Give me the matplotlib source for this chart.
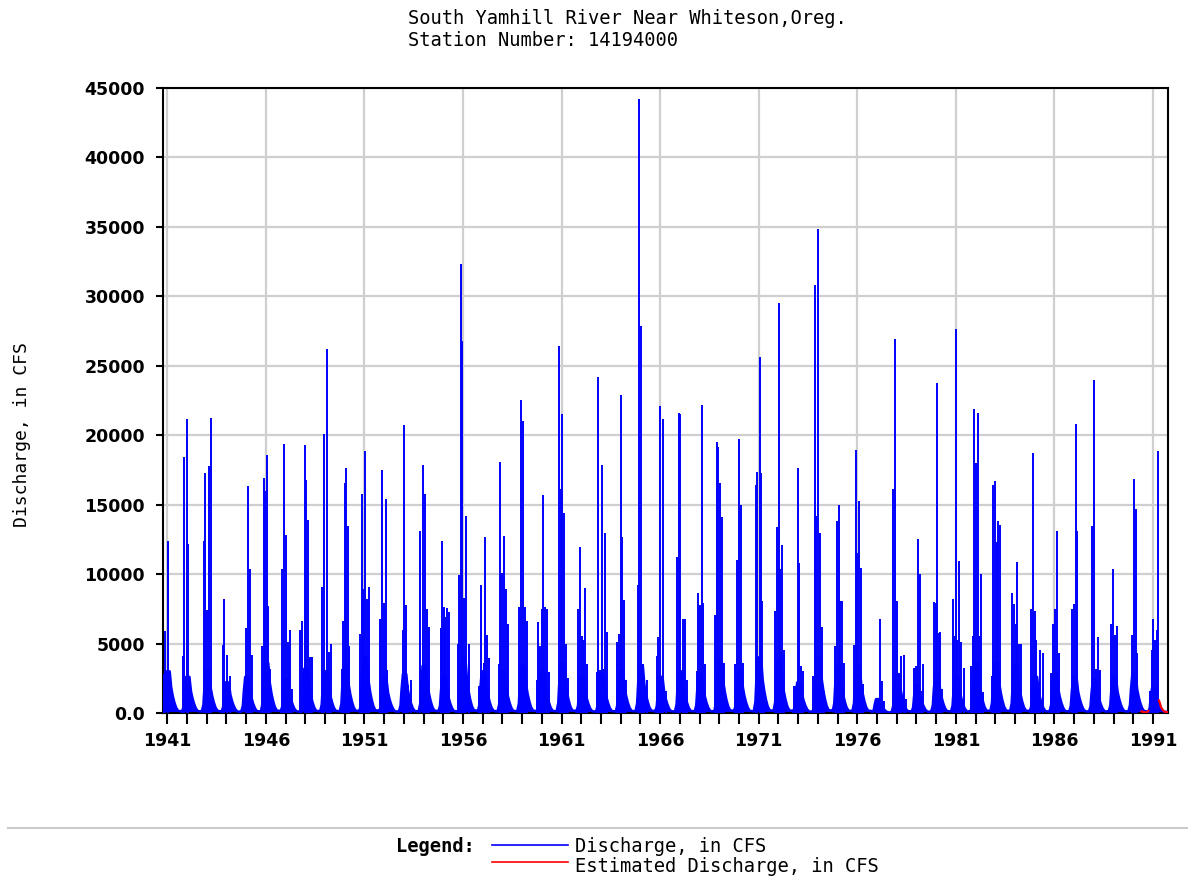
import numpy as np
import matplotlib.pyplot as plt
from matplotlib.lines import Line2D

# peak discharges (decimal year, cfs)
peak_years = [
    1940.81, 1940.89, 1941.01,
    1941.77, 1941.87, 1941.98, 1942.04,
    1942.84, 1942.92, 1943.01, 1943.09, 1943.19,
    1943.80, 1943.89, 1944.02, 1944.16,
    1945.00, 1945.09, 1945.17, 1945.29,
    1945.80, 1945.88, 1945.96, 1946.05, 1946.13, 1946.22,
    1946.83, 1946.93, 1947.01, 1947.10, 1947.20, 1947.30,
    1947.72, 1947.82, 1947.96, 1948.04, 1948.14, 1948.24, 1948.35,
    1948.86, 1948.94, 1949.11, 1949.19, 1949.28,
    1949.85, 1949.90, 1949.99, 1950.07, 1950.16, 1950.24,
    1950.78, 1950.85, 1950.93, 1951.02, 1951.12, 1951.22,
    1951.78, 1951.88, 1951.97, 1952.07, 1952.15,
    1952.95, 1953.03, 1953.11, 1953.22, 1953.35,
    1953.84, 1953.98, 1954.06, 1954.15, 1954.25,
    1954.86, 1954.94, 1955.01, 1955.11, 1955.21, 1955.31,
    1955.74, 1955.82, 1955.90, 1955.97, 1956.07, 1956.17, 1956.28,
    1956.80, 1956.93, 1957.04, 1957.12, 1957.21, 1957.31,
    1957.83, 1957.90, 1957.98, 1958.08, 1958.19, 1958.29,
    1958.85, 1958.95, 1959.03, 1959.12, 1959.22,
    1959.74, 1959.81, 1959.89, 1959.98, 1960.08, 1960.18, 1960.25, 1960.35,
    1960.86, 1960.96, 1961.03, 1961.11, 1961.20, 1961.30,
    1961.82, 1961.92, 1962.02, 1962.11, 1962.18, 1962.28,
    1962.78, 1962.87, 1962.95, 1963.04, 1963.12, 1963.22, 1963.31,
    1963.83, 1963.92, 1964.00, 1964.07, 1964.17, 1964.25,
    1964.86, 1964.95, 1965.03, 1965.12, 1965.20, 1965.32,
    1965.83, 1965.91, 1966.00, 1966.08, 1966.16, 1966.27,
    1966.84, 1966.94, 1967.03, 1967.14, 1967.25, 1967.35,
    1967.85, 1967.94, 1968.02, 1968.11, 1968.19, 1968.29,
    1968.80, 1968.87, 1968.95, 1969.04, 1969.14, 1969.24,
    1969.80, 1969.92, 1970.00, 1970.10, 1970.19,
    1970.86, 1970.93, 1971.05, 1971.12, 1971.18, 1971.27,
    1971.83, 1971.91, 1972.01, 1972.08, 1972.17, 1972.27,
    1972.81, 1972.89, 1972.98, 1973.04, 1973.15, 1973.23,
    1973.74, 1973.84, 1973.92, 1974.01, 1974.11, 1974.19, 1974.29,
    1974.89, 1974.97, 1975.06, 1975.14, 1975.22, 1975.33,
    1975.83, 1975.92, 1976.00, 1976.10, 1976.19, 1976.27,
    1976.95, 1977.07, 1977.15, 1977.24, 1977.35,
    1977.83, 1977.93, 1978.03, 1978.13, 1978.23, 1978.35, 1978.45,
    1978.89, 1978.98, 1979.08, 1979.16, 1979.25, 1979.33,
    1979.89, 1979.97, 1980.03, 1980.13, 1980.21, 1980.30,
    1980.84, 1980.90, 1980.99, 1981.07, 1981.16, 1981.24, 1981.41,
    1981.78, 1981.85, 1981.93, 1982.02, 1982.10, 1982.21, 1982.29, 1982.39,
    1982.81, 1982.90, 1982.98, 1983.07, 1983.15, 1983.24,
    1983.86, 1983.93, 1984.03, 1984.12, 1984.22, 1984.32,
    1984.83, 1984.91, 1985.00, 1985.08, 1985.18, 1985.25, 1985.40,
    1985.84, 1985.91, 1986.03, 1986.13, 1986.21,
    1986.89, 1986.99, 1987.09, 1987.16,
    1987.90, 1988.02, 1988.12, 1988.21, 1988.29,
    1988.87, 1988.98, 1989.07, 1989.15,
    1989.93, 1990.03, 1990.12, 1990.20,
    1990.84, 1990.93, 1990.99, 1991.08, 1991.18, 1991.27,
]
peak_cfs = [
    2800, 5900, 12400,
    4100, 18450, 21150, 12200,
    12400, 17300, 7400, 17750, 21270,
    4900, 8200, 4200, 2650,
    6100, 16330, 10400, 4200,
    4800, 16900, 16000, 18570, 7700, 3200,
    10400, 19400, 12800, 5100, 6000, 1750,
    6000, 6600, 19300, 16800, 13900, 4050, 4050,
    9050, 20100, 26230, 4400, 5000,
    3200, 6600, 16570, 17630, 13500, 4800,
    5700, 15750, 8900, 18900, 8200, 9100,
    6750, 17500, 7900, 15400, 3100,
    6000, 20770, 7750, 2050, 2350,
    13100, 17860, 15750, 7500, 6170,
    6100, 12400, 7640, 6930, 7580, 7260,
    5000, 9960, 32300, 26800, 8280, 14190, 5000,
    1940, 9250, 3600, 12700, 5600, 3970,
    3500, 18100, 10080, 12780, 8900, 6430,
    7640, 22560, 21030, 7640, 6600,
    2350, 6550, 4800, 7520, 15720, 7640, 7520, 2940,
    26440, 16160, 21500, 14400, 5000, 2500,
    7490, 11960, 5580, 5230, 9020, 3520,
    2940, 24200, 3080, 17860, 3200, 12930, 5820,
    5140, 5670, 22900, 12700, 8170, 2350,
    9250, 44240, 27880, 3520, 1760, 2400,
    4110, 5490, 22120, 1600, 21150, 1600,
    11250, 21620, 21500, 6750, 6750, 2400,
    3050, 8670, 7750, 22200, 7930, 3520,
    7050, 19500, 19150, 16570, 14100, 3580,
    3520, 11040, 19740, 15000, 3580,
    16450, 17330, 25620, 17270, 8080, 1760,
    7340, 13370, 29520, 10370, 12100, 4550,
    1910, 1910, 17630, 10800, 3350, 3020,
    2640, 30810, 14220, 34850, 12980, 6170, 1620,
    4800, 13860, 15000, 8050, 8050, 3580,
    4900, 18920, 11520, 15280, 10430, 2060,
    590, 700, 6760, 2300, 880,
    16160, 26910, 8080, 1760, 4120, 4180, 1000,
    3230, 3350, 12540, 9990, 1600, 3520,
    7990, 7940, 23740, 5730, 5820, 1760,
    8230, 5580, 27620, 5230, 10930, 5140, 3230,
    3370, 5520, 21860, 18000, 21620, 5580, 9990, 1500,
    2640, 16390, 16740, 12340, 13810, 13570,
    8670, 7860, 6430, 10880, 5000, 5000,
    7480, 18710, 7330, 5240, 2140, 4570, 4330,
    2900, 6430, 7480, 13070, 4330,
    7480, 7860, 20810, 13070,
    13450, 24000, 3200, 5480, 3100,
    6430, 10380, 5600, 6290,
    5600, 16830, 14710, 4290,
    1620, 4520, 6760, 5240, 5950, 18900,
]

# spring base flow of each water year (cfs)
water_years = list(range(1941, 1992))
winter_base = [
    1500, 1300, 1500, 1100, 1300, 1800, 1200, 1600, 1500, 1700,
    2000, 1200, 1400, 1700, 1300, 2000, 1500, 1500, 1700, 1500,
    1800, 1300, 1400, 1500, 1700, 1300, 1500, 1400, 1900, 1500,
    2000, 1900, 1100, 2000, 1700, 1700, 500, 1400, 1000, 1400,
    1300, 1800, 1800, 1700, 1300, 1400, 1300, 1200, 1300, 1400,
    900,
]
# seasonal shape of the base flow within a water year (offset from Jan 1, share of base)
season_offset = [-0.25, -0.17, -0.12, -0.05, 0.12, 0.20, 0.28, 0.36, 0.45, 0.55, 0.75]
season_share = [0.08, 0.40, 1.20, 2.00, 2.00, 1.20, 0.80, 0.50, 0.25, 0.10, 0.08]

# estimated discharge (red)
est1_years = [1990.42, 1990.50, 1990.60, 1990.70, 1990.76]
est1_cfs = [120, 70, 50, 60, 150]
est2_years = [1991.30, 1991.34, 1991.40, 1991.48, 1991.56, 1991.65, 1991.75]
est2_cfs = [900, 750, 450, 250, 120, 70, 50]

blue = '#0000ff'
red = '#ff0000'

fig = plt.figure(figsize=(11.88, 8.76), dpi=100)
ax = fig.add_axes([163 / 1188, 1 - 713 / 876, 1005 / 1188, 625 / 876])

# base flow
bt, bq = [], []
for wy, b in zip(water_years, winter_base):
    for o, s in zip(season_offset, season_share):
        bt.append(wy + o)
        bq.append(b * s)
ax.fill_between(bt, 0, bq, color=blue, lw=0, zorder=2)
ax.plot(bt, bq, color=blue, lw=1.8, zorder=3)

# storm peaks
ax.vlines(peak_years, 0, peak_cfs, color=blue, lw=1.4, zorder=3)

ax.plot(est1_years, est1_cfs, color=red, lw=1.6, zorder=4)
ax.plot(est2_years, est2_cfs, color=red, lw=1.6, zorder=4)

ax.set_xlim(1940.78, 1991.76)
ax.set_ylim(0, 45000)

major_years = list(range(1941, 1992, 5))
ax.set_xticks(major_years)
ax.set_xticklabels([str(y) for y in major_years])
ax.set_xticks(range(1941, 1992), minor=True)
yt = list(range(0, 45001, 5000))
ax.set_yticks(yt)
ax.set_yticklabels(['0.0'] + [str(v) for v in yt[1:]])

ax.grid(True, which='major', color='#cfcfcf', lw=1.6)
ax.set_axisbelow(True)
ax.tick_params(axis='x', which='both', length=8, width=1.5, direction='out', pad=6,
               labelsize=12.5)
ax.tick_params(axis='y', length=5, width=1.5, pad=8, labelsize=12.5)
for lab in ax.get_xticklabels() + ax.get_yticklabels():
    lab.set_fontweight('bold')
for sp in ax.spines.values():
    sp.set_linewidth(1.5)
    sp.set_color('black')

mono = 'DejaVu Sans Mono'
fig.text(408 / 1188, 1 - 19 / 876, 'South Yamhill River Near Whiteson,Oreg.',
         family=mono, fontsize=13.5, va='center', ha='left')
fig.text(408 / 1188, 1 - 41 / 876, 'Station Number: 14194000',
         family=mono, fontsize=13.5, va='center', ha='left')
fig.text(22 / 1188, 1 - 435 / 876, 'Discharge, in CFS', family=mono, fontsize=13,
         rotation=90, va='center', ha='center')

# legend block
fig.add_artist(Line2D([8 / 1188, 1], [1 - 828 / 876] * 2, color='#cccccc', lw=1.5))
fig.text(396 / 1188, 1 - 847 / 876, 'Legend:', family=mono, fontsize=13.5,
         fontweight='bold', va='center', ha='left')
fig.add_artist(Line2D([492 / 1188, 568 / 1188], [1 - 845 / 876] * 2, color=blue, lw=1.2))
fig.text(575 / 1188, 1 - 847 / 876, 'Discharge, in CFS', family=mono, fontsize=13.5,
         va='center', ha='left')
fig.add_artist(Line2D([492 / 1188, 568 / 1188], [1 - 862 / 876] * 2, color=red, lw=1.2))
fig.text(575 / 1188, 1 - 866 / 876, 'Estimated Discharge, in CFS', family=mono,
         fontsize=13.5, va='center', ha='left')

fig.savefig('out.png', dpi=100)
